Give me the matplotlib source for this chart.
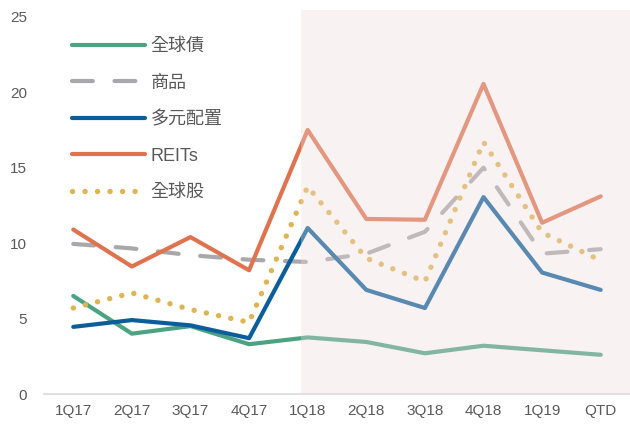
import matplotlib
matplotlib.use("Agg")
import matplotlib.pyplot as plt
from matplotlib.lines import Line2D

plt.rcParams['font.family'] = ['Liberation Sans', 'Noto Sans CJK TC', 'DejaVu Sans']

categories = ["1Q17", "2Q17", "3Q17", "4Q17", "1Q18", "2Q18", "3Q18", "4Q18", "1Q19", "QTD"]
global_bond = [6.5, 4.0, 4.5, 3.3, 3.75, 3.45, 2.7, 3.2, 2.9, 2.6]
commodity = [9.95, 9.65, 9.2, 8.9, 8.75, 9.3, 10.75, 15.0, 9.3, 9.6]
multi_asset = [4.45, 4.9, 4.55, 3.7, 11.0, 6.9, 5.7, 13.05, 8.05, 6.9]
reits = [10.9, 8.45, 10.4, 8.2, 17.5, 11.6, 11.55, 20.55, 11.35, 13.1]
global_equity = [5.7, 6.7, 5.6, 4.75, 13.75, 9.0, 7.45, 16.7, 10.7, 8.85]
labels = ["全球債", "商品", "多元配置", "REITs", "全球股"]
yticks = [0, 5, 10, 15, 20, 25]

c_green = "#4BA383"
c_gray = "#A8A8AB"
c_blue = "#0B5E9B"
c_orange = "#E0734F"
c_gold = "#DFB454"
text_c = "#595959"

fig = plt.figure(figsize=(6.3, 4.25), dpi=100)
ax = fig.add_axes([0.0698, 0.0729, 0.9302, 0.9036])
x = list(range(len(categories)))

lw = 3.0
dot_lw = 3.9
dot_dash = (0.01, 2.3)
gray_dash = (5.0, 5.2)
ax.plot(x, commodity, color=c_gray, lw=lw, dashes=gray_dash, dash_capstyle='round', zorder=2)
ax.plot(x, global_bond, color=c_green, lw=lw, solid_capstyle='round', solid_joinstyle='round', zorder=3)
ax.plot(x, multi_asset, color=c_blue, lw=lw, solid_capstyle='round', solid_joinstyle='round', zorder=4)
ax.plot(x, reits, color=c_orange, lw=lw, solid_capstyle='round', solid_joinstyle='round', zorder=5)
ax.plot(x, global_equity, color=c_gold, lw=dot_lw, dashes=dot_dash, dash_capstyle='round', zorder=6)

ax.axvspan(3.89, 9.5, color=(0.92, 0.86, 0.86), alpha=0.35, lw=0, zorder=10)

ax.set_xlim(-0.5, 9.5)
ax.set_ylim(0, 25.45)
ax.set_yticks(yticks)
ax.set_xticks(x)
ax.set_xticklabels(categories)
ax.tick_params(axis='both', length=0, labelsize=11, colors=text_c)
ax.tick_params(axis='y', pad=12)
ax.tick_params(axis='x', pad=7)
for s in ['top', 'right', 'left']:
    ax.spines[s].set_visible(False)
ax.spines['bottom'].set_color('#D9D9D9')
ax.spines['bottom'].set_linewidth(1.2)
ax.spines['bottom'].set_zorder(1)

handles = [
    Line2D([], [], color=c_green, lw=lw, solid_capstyle='round'),
    Line2D([], [], color=c_gray, lw=lw, dashes=gray_dash, dash_capstyle='round'),
    Line2D([], [], color=c_blue, lw=lw, solid_capstyle='round'),
    Line2D([], [], color=c_orange, lw=lw, solid_capstyle='round'),
    Line2D([], [], color=c_gold, lw=dot_lw, dashes=dot_dash, dash_capstyle='round'),
]
leg = ax.legend(handles, labels, loc='upper left', bbox_to_anchor=(0.048, 0.927),
                frameon=False, fontsize=13, handlelength=4.05, handletextpad=0.3,
                labelspacing=1.08, borderpad=0, borderaxespad=0)
for t in leg.get_texts():
    t.set_color(text_c)
leg.set_zorder(20)

fig.savefig("out.png", dpi=100)
